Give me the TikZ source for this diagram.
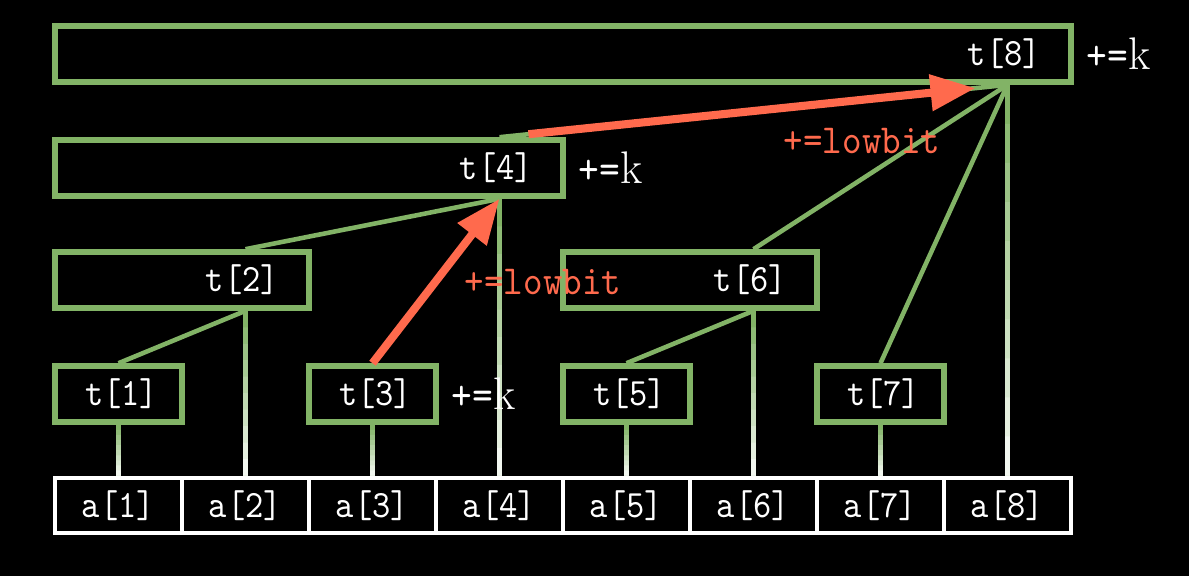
\documentclass[tikz,border=0pt]{standalone}
\usepackage{fontspec}
\usetikzlibrary{arrows.meta,positioning,calc}
\newfontfamily\cellfont[FakeStretch=0.9]{lmmono10-regular.otf}
\definecolor{bitgreen}{HTML}{82B366}
\definecolor{bitred}{HTML}{FF6A4D}

% vertical link into the array row, green fading to white
\newcommand\fadelink[2]{%
  \foreach \s in {0,...,9}{%
    \pgfmathtruncatemacro\mix{100-10*\s}%
    \draw[link,draw=bitgreen!\mix!white]
      ($(#1)!\s/10!(#2)$) -- (#2);}}

\begin{document}
\begin{tikzpicture}[x=0.02cm,y=-0.02cm,
  cell/.style={draw=white,line width=2.8pt,minimum width=2.54cm,minimum height=1.1cm,
               inner sep=0pt,text=white,font=\cellfont\fontsize{22}{24}\selectfont},
  tree/.style={draw=bitgreen,line width=3.2pt,minimum height=1.12cm,
               inner xsep=0.6cm,inner ysep=0pt,align=right,
               text=white,font=\cellfont\fontsize{22}{24}\selectfont},
  link/.style={draw=bitgreen,line width=2.6pt},
  jump/.style={draw=bitred,line width=4.6pt,-{Triangle[length=0.9cm,width=0.7cm]}},
  addk/.style={text=white,font=\fontsize{26}{28}\selectfont,inner sep=0pt},
  lowb/.style={text=bitred,font=\cellfont\fontsize{23.5}{26}\selectfont}
]
\fill[black] (0,0) rectangle (1189,576);

% ---- Array a --------------------------------------------------
\node[cell] (a1) at (118.5,505.5) {a[1]};
\node[cell] (a2) at (245.5,505.5) {a[2]};
\node[cell] (a3) at (372.5,505.5) {a[3]};
\node[cell] (a4) at (499.5,505.5) {a[4]};
\node[cell] (a5) at (626.5,505.5) {a[5]};
\node[cell] (a6) at (753.5,505.5) {a[6]};
\node[cell] (a7) at (880.5,505.5) {a[7]};
\node[cell] (a8) at (1007.5,505.5) {a[8]};

% ---- Tree t ---------------------------------------------------
\node[tree,text width=1.34cm] (t1) at (118.5,394) {t[1]};
\node[tree,text width=1.34cm] (t3) at (372.5,394) {t[3]};
\node[tree,text width=1.34cm] (t5) at (626.5,394) {t[5]};
\node[tree,text width=1.34cm] (t7) at (880.5,394) {t[7]};
\node[tree,text width=3.88cm] (t2) at (182,280) {t[2]};
\node[tree,text width=3.88cm] (t6) at (690,280) {t[6]};
\node[tree,text width=8.96cm] (t4) at (309,168) {t[4]};
\node[tree,text width=19.12cm] (t8) at (563,54) {t[8]};

% ---- Links ----------------------------------------------------
\draw[link] (t2.south -| a2) -- (t1.north);
\draw[link] (t6.south -| a6) -- (t5.north);
\draw[link] (t4.south -| a4) -- (t2.north -| a2);
\draw[link] (t8.south -| a8) -- (t4.north -| a4);
\draw[link] (t8.south -| a8) -- (t6.north -| a6);
\draw[link] (t8.south -| a8) -- (t7.north);

\fadelink{t1.south -| a1}{a1.north}
\fadelink{t2.south -| a2}{a2.north}
\fadelink{t3.south -| a3}{a3.north}
\fadelink{t4.south -| a4}{a4.north}
\fadelink{t5.south -| a5}{a5.north}
\fadelink{t6.south -| a6}{a6.north}
\fadelink{t7.south -| a7}{a7.north}
\fadelink{t8.south -| a8}{a8.north}

% ---- Update path ----------------------------------------------
\node[addk,right=0.25cm of t3] (k3) {{\cellfont\fontsize{25}{26}\selectfont +=}k};
\node[addk,right=0.25cm of t4] (k4) {{\cellfont\fontsize{25}{26}\selectfont +=}k};
\node[addk,right=0.25cm of t8] (k8) {{\cellfont\fontsize{25}{26}\selectfont +=}k};
\node[lowb] (lb4) at (543,282) {+=lowbit};
\node[lowb] (lb8) at (862,141) {+=lowbit};

\draw[jump] (t3.north) -- (t4.south -| a4);
\draw[jump] ($(t4.north -| a4)!0.057!(t8.south -| a8)$) -- ($(t4.north -| a4)!0.937!(t8.south -| a8)$);

\end{tikzpicture}
\end{document}
